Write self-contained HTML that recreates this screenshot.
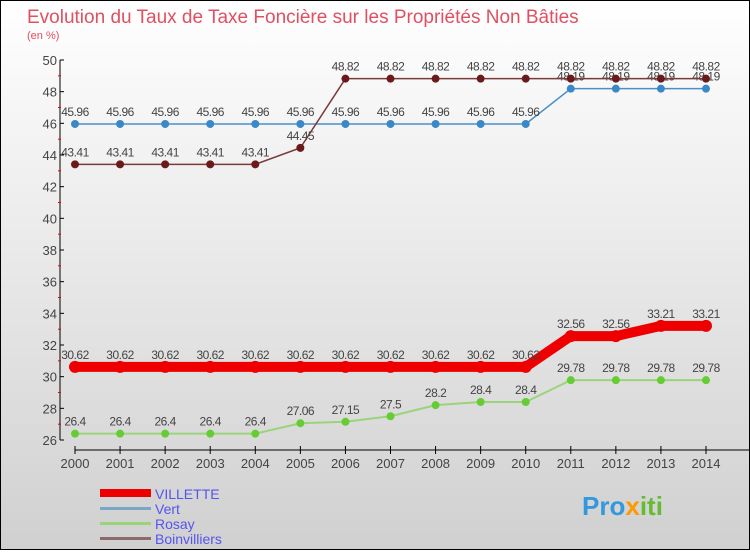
<!DOCTYPE html>
<html><head><meta charset="utf-8"><style>
body{margin:0;width:750px;height:550px;overflow:hidden;font-family:"Liberation Sans",sans-serif}
</style></head><body>
<svg id="chart" width="750" height="550" xmlns="http://www.w3.org/2000/svg" font-family="Liberation Sans, sans-serif">
<defs><linearGradient id="bg" x1="0" y1="0" x2="0" y2="1"><stop offset="0" stop-color="#ffffff"/><stop offset="1" stop-color="#d0d0d0"/></linearGradient></defs>
<rect x="0.5" y="0.5" width="749" height="549" fill="url(#bg)" stroke="#000"/>
<text x="27" y="23" font-size="19" fill="#e05060">Evolution du Taux de Taxe Foncière sur les Propriétés Non Bâties</text>
<text x="27" y="39" font-size="11" fill="#e05060">(en %)</text>
<g id="axes"></g><g id="series"></g>
<g>
<rect x="100" y="489" width="51" height="8" fill="#ee0000"/>
<text x="155" y="499" font-size="14" fill="#5555ee">VILLETTE</text>
<rect x="100" y="507" width="51" height="3" fill="#7aa6c8"/>
<text x="155" y="514" font-size="14" fill="#5555ee">Vert</text>
<rect x="100" y="522" width="51" height="3" fill="#99d47a"/>
<text x="155" y="529" font-size="14" fill="#5555ee">Rosay</text>
<rect x="100" y="537" width="51" height="3" fill="#8a6a6a"/>
<text x="155" y="544" font-size="14" fill="#5555ee">Boinvilliers</text>
</g>
<text x="582" y="515" font-size="26" font-weight="bold" fill="#3399dd">Pro<tspan fill="#ff9900">x</tspan><tspan fill="#66bb33">iti</tspan></text>
</svg>
<script>
const years=[2000,2001,2002,2003,2004,2005,2006,2007,2008,2009,2010,2011,2012,2013,2014];
const villette=[30.62,30.62,30.62,30.62,30.62,30.62,30.62,30.62,30.62,30.62,30.62,32.56,32.56,33.21,33.21];
const vert=[45.96,45.96,45.96,45.96,45.96,45.96,45.96,45.96,45.96,45.96,45.96,48.19,48.19,48.19,48.19];
const rosay=[26.4,26.4,26.4,26.4,26.4,27.06,27.15,27.5,28.2,28.4,28.4,29.78,29.78,29.78,29.78];
const boinvilliers=[43.41,43.41,43.41,43.41,43.41,44.45,48.82,48.82,48.82,48.82,48.82,48.82,48.82,48.82,48.82];
const yTicks=[26,28,30,32,34,36,38,40,42,44,46,48,50];
const NS="http://www.w3.org/2000/svg";
const x=i=>75+i*(706-75)/(years.length-1);
const y=v=>440-(v-26)*(380/24);
function mk(t,a,p){const e=document.createElementNS(NS,t);for(const k in a)e.setAttribute(k,a[k]);p.appendChild(e);return e;}
const ax=document.getElementById('axes');
let l=mk('line',{x1:60,y1:60,x2:60,y2:440,stroke:'#000'},ax);


l=mk('line',{x1:75,y1:450,x2:750,y2:450,stroke:'#000'},ax);


yTicks.forEach((v,k)=>{
  mk('line',{x1:60,y1:y(v),x2:64,y2:y(v),stroke:'#000'},ax);
  if(k<yTicks.length-1)mk('line',{x1:58,y1:y(v+1),x2:61,y2:y(v+1),stroke:'#e00'},ax);
  const t=mk('text',{x:57,y:y(v)+5,'text-anchor':'end','font-size':13,fill:'#444'},ax);
  
  
  t.textContent=v;
});
years.forEach((yr,i)=>{
  mk('line',{x1:x(i),y1:446,x2:x(i),y2:454,stroke:'#000'},ax);
  const t=mk('text',{x:x(i),y:468,'text-anchor':'middle','font-size':13,fill:'#444'},ax);
  
  
  t.textContent=yr;
});
const sg=document.getElementById('series');
function draw(name,data,color,w,r,dot){
  const g=mk('g',{},sg);
  
  
  const pl=mk('polyline',{points:data.map((v,i)=>x(i)+','+y(v)).join(' '),fill:'none',stroke:color,'stroke-width':w},g);
  
  
  data.forEach((v,i)=>{
    const c=mk('circle',{cx:x(i),cy:y(v),r:r,fill:dot},g);
    
    
    const t=mk('text',{x:x(i),y:y(v)-8,'text-anchor':'middle','font-size':12,fill:'#444','letter-spacing':'-0.5'},g);
    
    
    t.textContent=v;
  });
}
draw('vert',vert,'#4a90c8',1.5,4,'#3a88c8');
draw('boinvilliers',boinvilliers,'#7a3a3a',1.5,4,'#6a1a1a');
draw('rosay',rosay,'#99d47a',2,4,'#66cc33');
draw('villette',villette,'#ee0000',10,6,'#ee0000');
</script>
</body></html>
